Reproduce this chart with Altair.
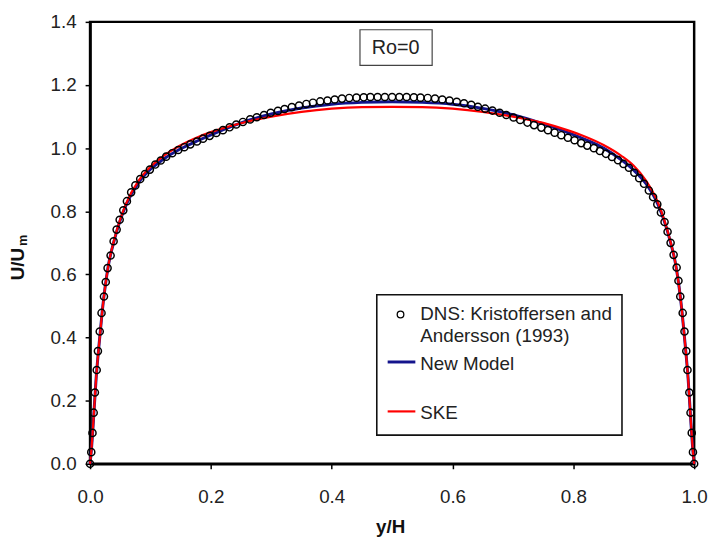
import altair as alt
import pandas as pd

# ---------------- data ----------------
DNS_Y = [0.000, 0.002, 0.004, 0.006, 0.008, 0.011, 0.013, 0.016, 0.019, 0.023,
         0.026, 0.029, 0.034, 0.039, 0.044, 0.049, 0.055, 0.061, 0.068, 0.075,
         0.083, 0.091, 0.099, 0.108, 0.117, 0.126, 0.136, 0.146, 0.156, 0.166,
         0.177, 0.187, 0.198, 0.209, 0.220, 0.231, 0.242, 0.253, 0.265, 0.276,
         0.288, 0.299, 0.311, 0.322, 0.334, 0.346, 0.358, 0.369, 0.381, 0.393,
         0.405, 0.417, 0.429, 0.441, 0.453, 0.464, 0.476, 0.488, 0.500,
         0.512, 0.524, 0.536, 0.547, 0.559, 0.571, 0.583, 0.595, 0.607, 0.619,
         0.631, 0.642, 0.654, 0.666, 0.678, 0.689, 0.701, 0.712, 0.724, 0.735,
         0.747, 0.758, 0.769, 0.780, 0.791, 0.802, 0.813, 0.823, 0.834, 0.844,
         0.854, 0.864, 0.874, 0.883, 0.892, 0.901, 0.909, 0.917, 0.925, 0.932,
         0.939, 0.945, 0.951, 0.956, 0.961, 0.966, 0.971, 0.974, 0.977, 0.981,
         0.984, 0.987, 0.989, 0.992, 0.994, 0.996, 0.998, 1.000]
DNS_U = [0.000, 0.037, 0.098, 0.162, 0.226, 0.297, 0.357, 0.419, 0.478, 0.530,
         0.576, 0.620, 0.660, 0.705, 0.742, 0.773, 0.803, 0.832, 0.860, 0.882,
         0.902, 0.918, 0.932, 0.948, 0.961, 0.973, 0.984, 0.994, 1.003, 1.012,
         1.021, 1.030, 1.039, 1.048, 1.057, 1.066, 1.075, 1.083, 1.091, 1.098,
         1.105, 1.112, 1.118, 1.124, 1.130, 1.135, 1.140, 1.144, 1.148, 1.151,
         1.154, 1.157, 1.159, 1.160, 1.161, 1.162, 1.162, 1.162, 1.162,
         1.162, 1.162, 1.161, 1.160, 1.159, 1.157, 1.154, 1.151, 1.147, 1.142,
         1.137, 1.131, 1.125, 1.119, 1.112, 1.105, 1.097, 1.089, 1.081, 1.073,
         1.065, 1.057, 1.049, 1.041, 1.033, 1.025, 1.016, 1.008, 1.000, 0.991,
         0.982, 0.972, 0.962, 0.950, 0.938, 0.922, 0.905, 0.887, 0.866, 0.845,
         0.822, 0.796, 0.766, 0.735, 0.700, 0.662, 0.622, 0.580, 0.530, 0.478,
         0.419, 0.357, 0.297, 0.226, 0.162, 0.098, 0.037, 0.000]

NEW_Y = [0.000, 0.002, 0.005, 0.010, 0.015, 0.020, 0.030, 0.040, 0.050, 0.060,
         0.080, 0.100, 0.120, 0.150, 0.180, 0.210, 0.250, 0.300, 0.350, 0.400,
         0.450, 0.500, 0.550, 0.600, 0.650, 0.700, 0.750, 0.790, 0.820, 0.850,
         0.880, 0.900, 0.920, 0.940, 0.950, 0.960, 0.970, 0.980, 0.985, 0.990,
         0.995, 0.998, 1.000]
NEW_U = [0.000, 0.040, 0.120, 0.270, 0.380, 0.480, 0.625, 0.708, 0.772, 0.822,
         0.890, 0.933, 0.963, 0.998, 1.025, 1.050, 1.080, 1.108, 1.127, 1.139,
         1.145, 1.147, 1.145, 1.139, 1.126, 1.106, 1.077, 1.050, 1.027, 1.000,
         0.962, 0.930, 0.888, 0.822, 0.772, 0.708, 0.625, 0.480, 0.380, 0.270,
         0.120, 0.040, 0.000]

SKE_Y = NEW_Y
SKE_U = [0.000, 0.040, 0.120, 0.270, 0.380, 0.480, 0.625, 0.710, 0.775, 0.826,
         0.896, 0.941, 0.973, 1.009, 1.036, 1.057, 1.079, 1.100, 1.115, 1.125,
         1.130, 1.131, 1.130, 1.125, 1.115, 1.100, 1.080, 1.057, 1.036, 1.010,
         0.975, 0.944, 0.898, 0.828, 0.775, 0.710, 0.625, 0.480, 0.380, 0.270,
         0.120, 0.040, 0.000]

X_TICKS = [0.0, 0.2, 0.4, 0.6, 0.8, 1.0]
Y_TICKS = [0.0, 0.2, 0.4, 0.6, 0.8, 1.0, 1.2, 1.4]

LEGEND_LABELS = ["DNS: Kristoffersen and", "Andersson (1993)", "New Model", "SKE"]

# ---------------- chart ----------------
W, H = 611, 447
FONT = "Liberation Sans"

dns = pd.DataFrame({"y": DNS_Y, "u": DNS_U})
new = pd.DataFrame({"y": NEW_Y, "u": NEW_U})
ske = pd.DataFrame({"y": SKE_Y, "u": SKE_U})

xs = alt.Scale(domain=[0, 1], nice=False, zero=False, padding=0)
ys = alt.Scale(domain=[0, 1.4], nice=False, zero=False, padding=0)

xax = alt.Axis(values=X_TICKS, format=".1f", title=None, grid=False,
               labelPadding=19, tickSize=5, labelFlush=False, labelOverlap=False)
yax = alt.Axis(values=Y_TICKS, format=".1f", title=None, grid=False,
               labelPadding=9, tickSize=5, labelFlush=False, labelOverlap=False)

X = alt.X("y:Q", scale=xs, axis=xax)
Y = alt.Y("u:Q", scale=ys, axis=yax)

new_line = alt.Chart(new).mark_line(color="#14148c", strokeWidth=3,
                                    interpolate="monotone").encode(x=X, y=Y)
ske_line = alt.Chart(ske).mark_line(color="#ff0000", strokeWidth=2.2,
                                    interpolate="monotone").encode(x=X, y=Y)
dns_pts = alt.Chart(dns).mark_point(shape="circle", filled=False, color="black",
                                    size=52, strokeWidth=1.5, opacity=1).encode(x=X, y=Y)

one = pd.DataFrame({"k": [0]})

# Ro=0 box
ro_box = alt.Chart(one).mark_rect(fill="white", stroke="#444", strokeWidth=1.2).encode(
    x=alt.value(273), x2=alt.value(346), y=alt.value(8), y2=alt.value(44))
ro_txt = alt.Chart(pd.DataFrame({"t": ["Ro=0"]})).mark_text(
    font=FONT, fontSize=20, color="#222", align="center", baseline="middle").encode(
    x=alt.value(309), y=alt.value(26), text="t:N")

# legend
leg_box = alt.Chart(one).mark_rect(fill="white", stroke="#111", strokeWidth=1.6).encode(
    x=alt.value(290), x2=alt.value(538), y=alt.value(276), y2=alt.value(418))
leg_pt = alt.Chart(one).mark_point(shape="circle", filled=False, color="black",
                                   size=45, strokeWidth=1.3, opacity=1).encode(
    x=alt.value(314), y=alt.value(296))
leg_blue = alt.Chart(one).mark_rule(color="#14148c", strokeWidth=3).encode(
    x=alt.value(301), x2=alt.value(329), y=alt.value(344))
leg_red = alt.Chart(one).mark_rule(color="#ff0000", strokeWidth=2.2).encode(
    x=alt.value(301), x2=alt.value(329), y=alt.value(394))


def leg_text(label, ypos):
    return alt.Chart(pd.DataFrame({"t": [label]})).mark_text(
        font=FONT, fontSize=19, color="#222", align="left", baseline="middle").encode(
        x=alt.value(334), y=alt.value(ypos), text="t:N")


leg_texts = [leg_text(LEGEND_LABELS[0], 296), leg_text(LEGEND_LABELS[1], 318),
             leg_text(LEGEND_LABELS[2], 346), leg_text(LEGEND_LABELS[3], 396)]

# axis titles
ytitle = alt.Chart(pd.DataFrame({"t": ["U/U"]})).mark_text(
    font=FONT, fontSize=19, fontWeight="bold", color="#111", angle=270,
    align="center", baseline="middle").encode(
    x=alt.value(-73), y=alt.value(245), text="t:N")
ysub = alt.Chart(pd.DataFrame({"t": ["m"]})).mark_text(
    font=FONT, fontSize=13, fontWeight="bold", color="#111", angle=270,
    align="center", baseline="middle").encode(
    x=alt.value(-68), y=alt.value(221), text="t:N")
xtitle = alt.Chart(pd.DataFrame({"t": ["y/H"]})).mark_text(
    font=FONT, fontSize=19, fontWeight="bold", color="#111",
    align="center", baseline="middle").encode(
    x=alt.value(304), y=alt.value(511), text="t:N")

chart = alt.layer(
    new_line, ske_line, dns_pts, ro_box, ro_txt, leg_box, leg_pt, leg_blue, leg_red,
    *leg_texts, ytitle, ysub, xtitle
).properties(
    width=W, height=H,
    autosize=alt.AutoSizeParams(type="none"),
    padding={"left": 83, "top": 11, "right": 14, "bottom": 72},
).configure_view(
    stroke="black", strokeWidth=2.5
).configure_axis(
    labelFont=FONT, labelFontSize=19, labelColor="#222",
    domainColor="black", domainWidth=2.5,
    tickColor="black", tickWidth=1.5,
)

chart.save("out.html", embed_options={"renderer": "svg", "actions": False})
